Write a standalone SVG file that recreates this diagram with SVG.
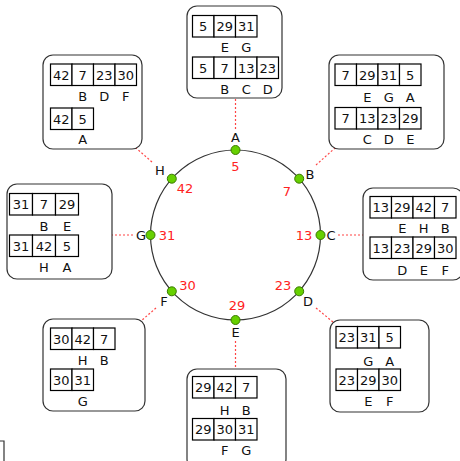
<svg xmlns="http://www.w3.org/2000/svg" width="460" height="461" viewBox="0 0 460 461">
<style>
.box{fill:#fff;stroke:#333;stroke-width:1.2}
.c{fill:#fff;stroke:#000;stroke-width:1.2}
text{font-family:"DejaVu Sans","Verdana",sans-serif;font-size:13px;fill:#111}
.n{text-anchor:middle}
.l{text-anchor:middle}
.r{fill:#f22;text-anchor:middle}
.k{text-anchor:middle}
.dot{fill:#66d000;stroke:#3a7a00;stroke-width:1}
.con{stroke:#f44;stroke-width:1.2;stroke-dasharray:2 2;fill:none}
</style>
<rect width="460" height="461" fill="#fff"/>
<circle cx="235.5" cy="235" r="85" fill="none" stroke="#333" stroke-width="1.2"/>
<g id="connectors">
<line class="con" x1="235.5" y1="129" x2="235.5" y2="98"/>
<line class="con" x1="316" y1="165" x2="335" y2="148"/>
<line class="con" x1="338" y1="235" x2="363" y2="235"/>
<line class="con" x1="316" y1="308" x2="333" y2="322"/>
<line class="con" x1="235.5" y1="341" x2="235.5" y2="369"/>
<line class="con" x1="156" y1="308" x2="141" y2="321"/>
<line class="con" x1="133" y1="235" x2="112" y2="235"/>
<line class="con" x1="152" y1="162" x2="136" y2="148"/>
</g>
<g id="node-A">
<circle class="dot" cx="235.5" cy="150" r="4.5"/>
<text class="k" x="235.5" y="142">A</text>
<text class="r" x="235.5" y="170.5">5</text>
<rect class="box" x="187" y="6" width="95" height="92" rx="10"/>
<rect class="c" x="192.5" y="15.5" width="21.5" height="21.5"/><rect class="c" x="214" y="15.5" width="21.5" height="21.5"/><rect class="c" x="235.5" y="15.5" width="21.5" height="21.5"/>
<text class="n" x="203.25" y="31">5</text><text class="n" x="224.75" y="31">29</text><text class="n" x="246.25" y="31">31</text>
<text class="l" x="224.75" y="52">E</text><text class="l" x="246.25" y="52">G</text>
<rect class="c" x="192.5" y="57" width="21.5" height="21.5"/><rect class="c" x="214" y="57" width="21.5" height="21.5"/><rect class="c" x="235.5" y="57" width="21.5" height="21.5"/><rect class="c" x="257" y="57" width="21.5" height="21.5"/>
<text class="n" x="203.25" y="72.5">5</text><text class="n" x="224.75" y="72.5">7</text><text class="n" x="246.25" y="72.5">13</text><text class="n" x="267.75" y="72.5">23</text>
<text class="l" x="224.75" y="94">B</text><text class="l" x="246.25" y="94">C</text><text class="l" x="267.75" y="94">D</text>
</g>
<g id="node-B">
<circle class="dot" cx="299.2" cy="178.7" r="4.5"/>
<text class="k" x="310" y="178.5">B</text>
<text class="r" x="287" y="195.5">7</text>
<rect class="box" x="329" y="55" width="115" height="94" rx="10"/>
<rect class="c" x="335" y="64" width="21.5" height="21.5"/><rect class="c" x="356.5" y="64" width="21.5" height="21.5"/><rect class="c" x="378" y="64" width="21.5" height="21.5"/><rect class="c" x="399.5" y="64" width="21.5" height="21.5"/>
<text class="n" x="345.75" y="79.5">7</text><text class="n" x="367.25" y="79.5">29</text><text class="n" x="388.75" y="79.5">31</text><text class="n" x="410.25" y="79.5">5</text>
<text class="l" x="367.25" y="101.5">E</text><text class="l" x="388.75" y="101.5">G</text><text class="l" x="410.25" y="101.5">A</text>
<rect class="c" x="335" y="107.5" width="21.5" height="21.5"/><rect class="c" x="356.5" y="107.5" width="21.5" height="21.5"/><rect class="c" x="378" y="107.5" width="21.5" height="21.5"/><rect class="c" x="399.5" y="107.5" width="21.5" height="21.5"/>
<text class="n" x="345.75" y="123">7</text><text class="n" x="367.25" y="123">13</text><text class="n" x="388.75" y="123">23</text><text class="n" x="410.25" y="123">29</text>
<text class="l" x="367.25" y="143.5">C</text><text class="l" x="388.75" y="143.5">D</text><text class="l" x="410.25" y="143.5">E</text>
</g>
<g id="node-C">
<circle class="dot" cx="320.5" cy="235" r="4.5"/>
<text class="k" x="331" y="239.5">C</text>
<text class="r" x="304" y="239.5">13</text>
<rect class="box" x="363" y="188" width="100" height="92" rx="10"/>
<rect class="c" x="370" y="196.5" width="21.5" height="21.5"/><rect class="c" x="391.5" y="196.5" width="21.5" height="21.5"/><rect class="c" x="413" y="196.5" width="21.5" height="21.5"/><rect class="c" x="434.5" y="196.5" width="21.5" height="21.5"/>
<text class="n" x="380.75" y="212">13</text><text class="n" x="402.25" y="212">29</text><text class="n" x="423.75" y="212">42</text><text class="n" x="445.25" y="212">7</text>
<text class="l" x="402.25" y="232.5">E</text><text class="l" x="423.75" y="232.5">H</text><text class="l" x="445.25" y="232.5">B</text>
<rect class="c" x="370" y="237" width="21.5" height="21.5"/><rect class="c" x="391.5" y="237" width="21.5" height="21.5"/><rect class="c" x="413" y="237" width="21.5" height="21.5"/><rect class="c" x="434.5" y="237" width="21.5" height="21.5"/>
<text class="n" x="380.75" y="252.5">13</text><text class="n" x="402.25" y="252.5">23</text><text class="n" x="423.75" y="252.5">29</text><text class="n" x="445.25" y="252.5">30</text>
<text class="l" x="402.25" y="274.5">D</text><text class="l" x="423.75" y="274.5">E</text><text class="l" x="445.25" y="274.5">F</text>
</g>
<g id="node-D">
<circle class="dot" cx="299.2" cy="291.3" r="4.5"/>
<text class="k" x="308" y="305.5">D</text>
<text class="r" x="283" y="289.5">23</text>
<rect class="box" x="330" y="320" width="99" height="92" rx="10"/>
<rect class="c" x="336" y="326.5" width="21.5" height="21.5"/><rect class="c" x="357.5" y="326.5" width="21.5" height="21.5"/><rect class="c" x="379" y="326.5" width="21.5" height="21.5"/>
<text class="n" x="346.75" y="342">23</text><text class="n" x="368.25" y="342">31</text><text class="n" x="389.75" y="342">5</text>
<text class="l" x="368.25" y="366">G</text><text class="l" x="389.75" y="366">A</text>
<rect class="c" x="336" y="369" width="21.5" height="21.5"/><rect class="c" x="357.5" y="369" width="21.5" height="21.5"/><rect class="c" x="379" y="369" width="21.5" height="21.5"/>
<text class="n" x="346.75" y="384.5">23</text><text class="n" x="368.25" y="384.5">29</text><text class="n" x="389.75" y="384.5">30</text>
<text class="l" x="368.25" y="406">E</text><text class="l" x="389.75" y="406">F</text>
</g>
<g id="node-E">
<circle class="dot" cx="235.5" cy="320" r="4.5"/>
<text class="k" x="235.5" y="336.5">E</text>
<text class="r" x="237" y="309.5">29</text>
<rect class="box" x="187" y="369" width="99" height="100" rx="10"/>
<rect class="c" x="192.5" y="376.5" width="21.5" height="21.5"/><rect class="c" x="214" y="376.5" width="21.5" height="21.5"/><rect class="c" x="235.5" y="376.5" width="21.5" height="21.5"/>
<text class="n" x="203.25" y="392">29</text><text class="n" x="224.75" y="392">42</text><text class="n" x="246.25" y="392">7</text>
<text class="l" x="224.75" y="414.5">H</text><text class="l" x="246.25" y="414.5">B</text>
<rect class="c" x="192.5" y="418.5" width="21.5" height="21.5"/><rect class="c" x="214" y="418.5" width="21.5" height="21.5"/><rect class="c" x="235.5" y="418.5" width="21.5" height="21.5"/>
<text class="n" x="203.25" y="434">29</text><text class="n" x="224.75" y="434">30</text><text class="n" x="246.25" y="434">31</text>
<text class="l" x="224.75" y="454.5">F</text><text class="l" x="246.25" y="454.5">G</text>
</g>
<g id="node-F">
<circle class="dot" cx="171.8" cy="291.3" r="4.5"/>
<text class="k" x="164" y="305.5">F</text>
<text class="r" x="187.5" y="289.5">30</text>
<rect class="box" x="43" y="319" width="102" height="92" rx="10"/>
<rect class="c" x="50.5" y="328" width="21.5" height="21.5"/><rect class="c" x="72" y="328" width="21.5" height="21.5"/><rect class="c" x="93.5" y="328" width="21.5" height="21.5"/>
<text class="n" x="61.25" y="343.5">30</text><text class="n" x="82.75" y="343.5">42</text><text class="n" x="104.25" y="343.5">7</text>
<text class="l" x="82.75" y="365">H</text><text class="l" x="104.25" y="365">B</text>
<rect class="c" x="50.5" y="369" width="21.5" height="21.5"/><rect class="c" x="72" y="369" width="21.5" height="21.5"/>
<text class="n" x="61.25" y="384.5">30</text><text class="n" x="82.75" y="384.5">31</text>
<text class="l" x="82.75" y="406">G</text>
</g>
<g id="node-G">
<circle class="dot" cx="150.5" cy="235" r="4.5"/>
<text class="k" x="141" y="239.5">G</text>
<text class="r" x="167" y="239.5">31</text>
<rect class="box" x="7" y="184" width="105" height="95" rx="10"/>
<rect class="c" x="9.5" y="193.5" width="23" height="21.5"/><rect class="c" x="32.5" y="193.5" width="23" height="21.5"/><rect class="c" x="55.5" y="193.5" width="23" height="21.5"/>
<text class="n" x="21" y="209">31</text><text class="n" x="44" y="209">7</text><text class="n" x="67" y="209">29</text>
<text class="l" x="44" y="231">B</text><text class="l" x="67" y="231">E</text>
<rect class="c" x="9.5" y="235" width="23" height="21.5"/><rect class="c" x="32.5" y="235" width="23" height="21.5"/><rect class="c" x="55.5" y="235" width="23" height="21.5"/>
<text class="n" x="21" y="250.5">31</text><text class="n" x="44" y="250.5">42</text><text class="n" x="67" y="250.5">5</text>
<text class="l" x="44" y="271.5">H</text><text class="l" x="67" y="271.5">A</text>
</g>
<g id="node-H">
<circle class="dot" cx="171.8" cy="178.7" r="4.5"/>
<text class="k" x="160" y="174.5">H</text>
<text class="r" x="185" y="192.5">42</text>
<rect class="box" x="43" y="55" width="99" height="94" rx="10"/>
<rect class="c" x="50.5" y="64" width="21.5" height="21.5"/><rect class="c" x="72" y="64" width="21.5" height="21.5"/><rect class="c" x="93.5" y="64" width="21.5" height="21.5"/><rect class="c" x="115" y="64" width="21.5" height="21.5"/>
<text class="n" x="61.25" y="79.5">42</text><text class="n" x="82.75" y="79.5">7</text><text class="n" x="104.25" y="79.5">23</text><text class="n" x="125.75" y="79.5">30</text>
<text class="l" x="82.75" y="101">B</text><text class="l" x="104.25" y="101">D</text><text class="l" x="125.75" y="101">F</text>
<rect class="c" x="50.5" y="108" width="21.5" height="21.5"/><rect class="c" x="72" y="108" width="21.5" height="21.5"/>
<text class="n" x="61.25" y="123.5">42</text><text class="n" x="82.75" y="123.5">5</text>
<text class="l" x="82.75" y="143.5">A</text>
</g>
<path d="M0,441 H4 V461" fill="none" stroke="#333" stroke-width="1.2"/>
</svg>
